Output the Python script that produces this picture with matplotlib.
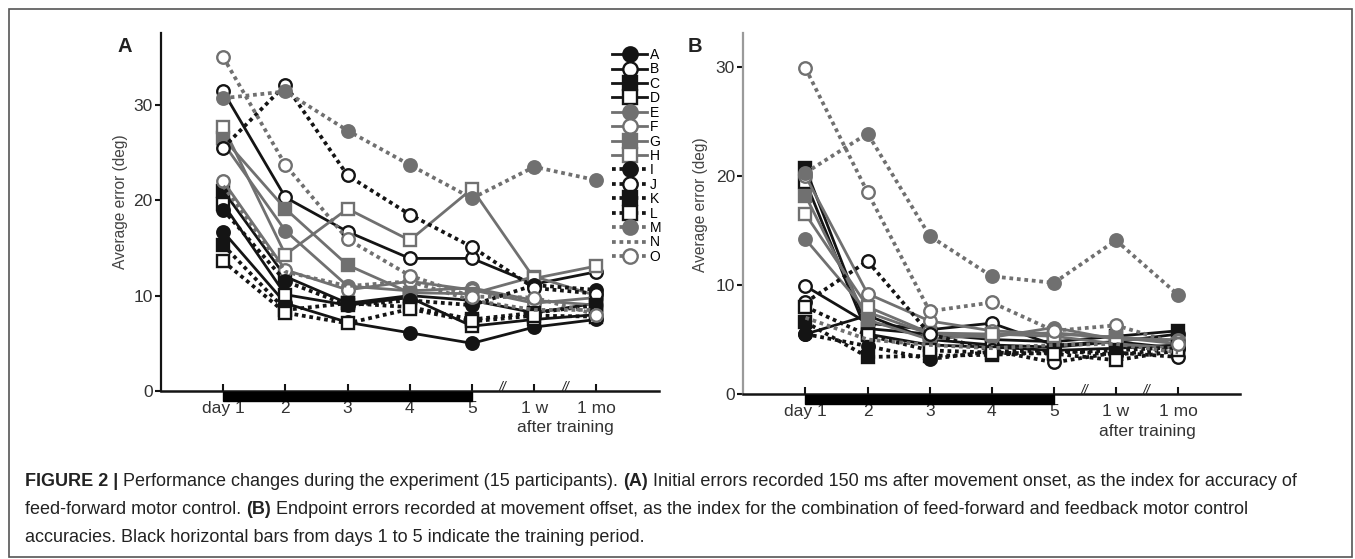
import matplotlib.pyplot as plt
import matplotlib.transforms as mtrans
from matplotlib.patches import Rectangle

plt.rcParams['font.family'] = ['Liberation Sans', 'DejaVu Sans']

# ---- data ----
participants = ['A', 'B', 'C', 'D', 'E', 'F', 'G', 'H', 'I', 'J', 'K', 'L', 'M', 'N', 'O']
sessions = ['day 1', '2', '3', '4', '5', '1 w', '1 mo']

# (A) initial error, deg
initial_err = [
    [16.7, 9.2, 7.2, 6.1, 5.0, 6.7, 7.5],      # A
    [31.4, 20.3, 16.7, 13.9, 13.9, 11.2, 12.5],  # B
    [21.0, 12.0, 9.2, 10.0, 9.5, 8.2, 9.2],    # C
    [19.6, 10.1, 9.0, 9.8, 6.8, 7.5, 8.0],     # D
    [26.0, 16.8, 11.0, 10.5, 10.8, 9.5, 9.0],  # E
    [22.0, 12.7, 10.6, 11.5, 10.6, 9.2, 9.8],  # F
    [26.5, 19.1, 13.2, 10.3, 10.2, 12.0, 10.0],  # G
    [27.7, 14.3, 19.1, 15.8, 21.2, 11.8, 13.1],  # H
    [19.0, 11.5, 9.0, 9.5, 9.0, 11.1, 10.6],   # I
    [25.5, 32.1, 22.6, 18.5, 15.1, 10.8, 10.2],  # J
    [15.3, 8.5, 9.2, 8.8, 7.5, 8.2, 9.0],      # K
    [13.6, 8.2, 7.1, 8.6, 7.3, 7.9, 7.8],      # L
    [30.7, 31.4, 27.3, 23.7, 20.2, 23.5, 22.1],  # M
    [21.5, 12.5, 11.0, 11.5, 9.5, 8.5, 8.5],   # N
    [35.0, 23.7, 15.9, 12.1, 9.9, 9.8, 8.0],   # O
]

# (B) endpoint error, deg
endpoint_err = [
    [5.5, 7.2, 5.0, 4.5, 4.3, 4.8, 5.5],   # A
    [9.9, 6.5, 5.9, 6.5, 4.5, 4.8, 4.2],   # B
    [20.7, 6.0, 5.5, 5.0, 4.8, 5.3, 5.8],  # C
    [19.5, 5.5, 4.5, 4.3, 4.0, 4.2, 4.5],  # D
    [14.2, 7.5, 5.5, 5.2, 6.1, 5.0, 5.0],  # E
    [20.0, 9.2, 6.7, 5.8, 5.5, 5.2, 4.9],  # F
    [18.2, 6.8, 5.0, 5.5, 5.6, 5.2, 4.6],  # G
    [16.5, 8.0, 5.6, 5.5, 5.3, 4.6, 4.2],  # H
    [5.5, 4.4, 3.2, 3.9, 4.0, 3.6, 4.2],   # I
    [8.4, 12.2, 5.5, 4.0, 2.9, 3.8, 3.4],  # J
    [6.6, 3.4, 3.5, 3.6, 3.8, 4.0, 4.3],   # K
    [8.0, 5.4, 4.0, 3.8, 3.7, 3.1, 4.0],   # L
    [20.3, 23.9, 14.5, 10.8, 10.2, 14.1, 9.1],  # M
    [7.0, 5.0, 4.5, 4.2, 4.5, 4.6, 3.8],   # N
    [29.9, 18.5, 7.6, 8.4, 5.8, 6.3, 4.6],  # O
]

caption = [
    [('FIGURE 2 |', 'bold'), ('Performance changes during the experiment (15 participants).', 'normal'),
     ('(A)', 'bold'), ('Initial errors recorded 150 ms after movement onset, as the index for accuracy of', 'normal')],
    [('feed-forward motor control.', 'normal'), ('(B)', 'bold'),
     ('Endpoint errors recorded at movement offset, as the index for the combination of feed-forward and feedback motor control', 'normal')],
    [('accuracies. Black horizontal bars from days 1 to 5 indicate the training period.', 'normal')],
]

BLACK = '#141414'
GRAY = '#707070'

W, H = 1355, 559
fig = plt.figure(figsize=(W / 100, H / 100), dpi=100)


def fx(px):
    return px / W


def fy(py):
    return 1 - py / H


def style(i):
    grp = i // 4
    col = BLACK if grp in (0, 2) else GRAY
    ls = '-' if grp < 2 else (0, (1, 1))
    if grp == 3:
        mk = ['o', None, 'o'][i - 12]
        filled = (i == 12)
    else:
        mk = ['o', 'o', 's', 's'][i % 4]
        filled = (i % 2 == 0)
    return col, ls, mk, filled


xs = list(range(1, len(sessions) + 1))


def draw_panel(ax, data, ymax, yticks, letter, letter_xy, after_y, bar_top, spine_col):
    for i, name in enumerate(participants):
        col, ls, mk, filled = style(i)
        lw = 2.0 if ls == '-' else 2.7
        ax.plot(xs, data[i], color=col, linestyle=ls, lw=lw, marker=mk, ms=9,
                mfc=col if filled else 'white', mec=col, mew=1.7,
                label=name, clip_on=False, zorder=3)
    ax.set_xlim(0, 8)
    ax.set_ylim(0, ymax)
    ax.set_yticks(yticks)
    ax.set_xticks(xs)
    ax.set_xticklabels(sessions)
    for s in ['top', 'right']:
        ax.spines[s].set_visible(False)
    ax.spines['bottom'].set_linewidth(1.8)
    ax.spines['bottom'].set_color(BLACK)
    ax.spines['left'].set_linewidth(1.6)
    ax.spines['left'].set_color(spine_col)
    ax.tick_params(axis='x', direction='in', length=5, width=1.5, pad=7,
                   labelsize=12.5, colors=BLACK)
    ax.tick_params(axis='y', direction='out', length=4, width=1.5, pad=2,
                   labelsize=12.5, colors=BLACK)
    for lab in ax.get_yticklabels() + ax.get_xticklabels():
        lab.set_color('#333333')
    ax.set_ylabel('Average error (deg)', fontsize=11.2, color='#444444')

    trans = mtrans.blended_transform_factory(ax.transData, ax.transAxes)
    # training period bar
    ax.add_patch(Rectangle((1, bar_top - 0.024), 4, 0.024, transform=trans,
                           color='black', clip_on=False, zorder=4))
    # axis break marks
    for xb in (5.5, 6.5):
        ax.text(xb, 0.008, '//', transform=trans, ha='center', va='center',
                fontsize=10, style='italic', color='#222222', clip_on=False)
    ax.text(6.5, after_y, 'after training', transform=trans, ha='center', va='center',
            fontsize=12.5, color='#333333')
    fig.text(fx(letter_xy[0]), fy(letter_xy[1]), letter, fontsize=14.5,
             fontweight='bold', ha='center', va='center', color='#222222')


axA = fig.add_axes([fx(161), fy(391), 497.6 / W, 357.7 / H])
axB = fig.add_axes([fx(743.4), fy(394), 496.8 / W, 360.7 / H])

draw_panel(axA, initial_err, 37.5, [0, 10, 20, 30], 'A', (125, 47), -0.103, -0.004, BLACK)
draw_panel(axB, endpoint_err, 33.1, [0, 10, 20, 30], 'B', (695, 47), -0.104, -0.003, '#9a9a9a')
axA.yaxis.set_label_coords(-0.066, 0.528)
axB.yaxis.set_label_coords(-0.071, 0.524)

axA.legend(loc='upper left', bbox_to_anchor=(fx(612), fy(48)), bbox_transform=fig.transFigure,
           frameon=False, fontsize=10, handlelength=2.55, handletextpad=0.15,
           labelspacing=0.03, borderpad=0, borderaxespad=0, markerscale=1.15)

# caption with mixed bold pieces
renderer = fig.canvas.get_renderer()
cap_size = 12.95
probe = fig.text(0, 0, 'a a', fontsize=cap_size)
w2 = probe.get_window_extent(renderer).width
probe.set_text('aa')
space_w = w2 - probe.get_window_extent(renderer).width
probe.remove()
line_y = [481, 509, 537]
for row, py in zip(caption, line_y):
    px = 25
    for txt, weight in row:
        t = fig.text(fx(px), fy(py), txt, fontsize=cap_size, fontweight=weight,
                     va='center', ha='left', color='#222222')
        px += t.get_window_extent(renderer).width + space_w

# outer frame
fig.add_artist(Rectangle((fx(9), fy(557)), (1352 - 9) / W, (557 - 9) / H,
                         transform=fig.transFigure, fill=False, ec='#555555', lw=1.2))

fig.savefig('out.png', dpi=100)
